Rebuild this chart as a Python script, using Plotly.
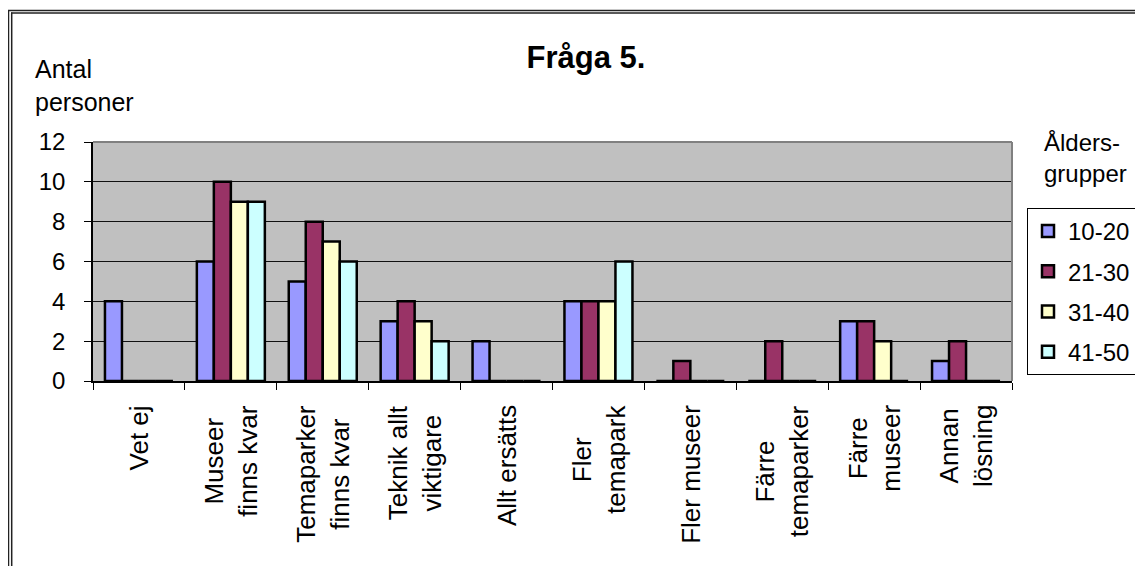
import plotly.graph_objects as go

categories = ["Vet ej", "Museer finns kvar", "Temaparker finns kvar", "Teknik allt viktigare",
              "Allt ersätts", "Fler temapark", "Fler museer", "Färre temaparker",
              "Färre museer", "Annan lösning"]
category_labels = ["Vet ej", "Museer<br>finns kvar", "Temaparker<br>finns kvar", "Teknik allt<br>viktigare",
                   "Allt ersätts", "Fler<br>temapark", "Fler museer", "Färre<br>temaparker",
                   "Färre<br>museer", "Annan<br>lösning"]
series_names = ["10-20", "21-30", "31-40", "41-50"]
v_10_20 = [4, 6, 5, 3, 2, 4, 0, 0, 3, 1]
v_21_30 = [0, 10, 8, 4, 0, 4, 1, 2, 3, 2]
v_31_40 = [0, 9, 7, 3, 0, 4, 0, 0, 2, 0]
v_41_50 = [0, 9, 6, 2, 0, 6, 0, 0, 0, 0]
series_values = [v_10_20, v_21_30, v_31_40, v_41_50]
colors = ["#9999FF", "#993366", "#FFFFCC", "#CCFFFF"]
y_ticks = [0, 2, 4, 6, 8, 10, 12]

OFF = 8  # default page body margin
PW, PH = 1143, 566
W, H = PW - OFF, PH - OFF
# plot area in page pixels
L, R, T, B = 93, 1012, 142, 381


def px(xp):
    return (xp - L) / (R - L)


def py(yp):
    return (B - yp) / (B - T)


FONT = "Liberation Sans, Arial, sans-serif"

fig = go.Figure()
for i, (name, vals, col) in enumerate(zip(series_names, series_values, colors)):
    fig.add_trace(go.Bar(
        x=categories, y=vals, name=name,
        marker=dict(color=col, line=dict(color="black", width=2.5)),
        legendgroup=name,
    ))

annotations = []
for cat, lab in zip(categories, category_labels):
    annotations.append(dict(
        x=cat, xref="x", y=py(403), yref="paper", text=lab, showarrow=False,
        textangle=-90, xanchor="center", yanchor="top", align="center",
        font=dict(family=FONT, size=26, color="black"),
    ))

annotations.append(dict(
    x=px(33), xref="paper", y=py(53), yref="paper", text="Antal<br>personer",
    showarrow=False, xanchor="left", yanchor="top", align="left",
    font=dict(family=FONT, size=25, color="black"),
))
annotations.append(dict(
    x=px(1042), xref="paper", y=py(127), yref="paper", text="Ålders-<br>grupper",
    showarrow=False, xanchor="left", yanchor="top", align="left",
    font=dict(family=FONT, size=24, color="black"),
))

shapes = [
    # plot area top/right edges (gray)
    dict(type="line", xref="paper", yref="paper", x0=0, x1=1, y0=1, y1=1,
         line=dict(color="#808080", width=2)),
    dict(type="line", xref="paper", yref="paper", x0=1, x1=1, y0=0, y1=1,
         line=dict(color="#808080", width=2)),
    # outer double frame
    dict(type="line", xref="paper", yref="paper", x0=px(7.5), x1=px(PW + 5), y0=py(10.5), y1=py(10.5),
         line=dict(color="#222222", width=1.5)),
    dict(type="line", xref="paper", yref="paper", x0=px(11), x1=px(PW + 5), y0=py(13), y1=py(13),
         line=dict(color="#222222", width=1.5)),
    dict(type="line", xref="paper", yref="paper", x0=px(8.5), x1=px(8.5), y0=py(10), y1=py(PH + 5),
         line=dict(color="#222222", width=1.5)),
    dict(type="line", xref="paper", yref="paper", x0=px(11.7), x1=px(11.7), y0=py(12.5), y1=py(PH + 5),
         line=dict(color="#222222", width=1.5)),
]

fig.update_layout(
    width=W, height=H,
    margin=dict(l=L - OFF, r=PW - R, t=T - OFF, b=PH - B, pad=0, autoexpand=False),
    paper_bgcolor="white", plot_bgcolor="#C0C0C0",
    barmode="group", bargap=0.26, bargroupgap=0,
    title=dict(text="<b>Fråga 5.</b>", x=(586 - OFF) / W, xref="container", xanchor="center",
               y=1 - (57 - OFF) / H, yref="container", yanchor="middle",
               font=dict(family=FONT, size=31, color="black")),
    font=dict(family=FONT, color="black"),
    showlegend=True,
    legend=dict(x=px(1027), y=py(208), xanchor="left", yanchor="top",
                bgcolor="white", bordercolor="black", borderwidth=1,
                font=dict(family=FONT, size=24, color="black"),
                traceorder="grouped", tracegroupgap=6),
    annotations=annotations,
    shapes=shapes,
)
fig.update_xaxes(
    type="category", categoryorder="array", categoryarray=categories,
    showticklabels=False, tickson="boundaries", ticks="outside", ticklen=7,
    tickcolor="black", tickwidth=1, showline=True, linecolor="black", linewidth=2,
    showgrid=False, zeroline=False,
)
fig.update_yaxes(
    range=[0, 12], tickvals=y_ticks, ticks="outside", ticklen=7, tickcolor="black",
    tickwidth=1, showline=True, linecolor="black", linewidth=1.5,
    showgrid=True, gridcolor="#111111", gridwidth=1, zeroline=False,
    tickfont=dict(family=FONT, size=24, color="black"), ticklabelstandoff=14,
)

fig.write_html("out.html")
